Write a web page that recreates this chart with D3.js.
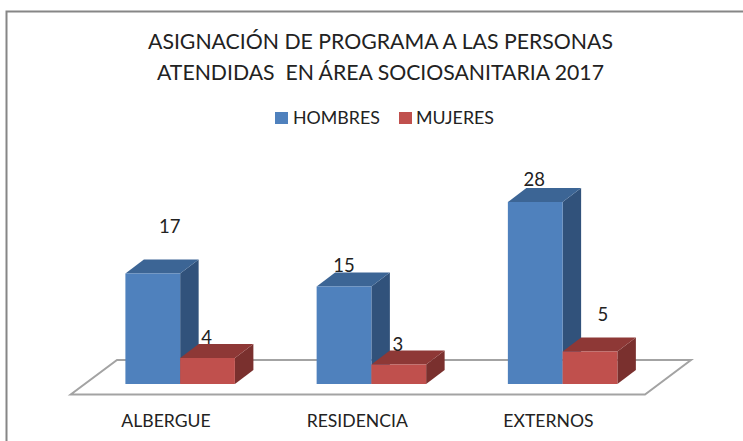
<!DOCTYPE html>
<html>
<head>
<meta charset="utf-8">
<script src="https://cdn.jsdelivr.net/npm/d3@7"></script>
<style>
  body { margin: 0; background: #fff; }
  svg { display: block; }
  text { font-family: Lato, "Open Sans", sans-serif; fill: #222; }
</style>
</head>
<body>
<svg width="743" height="441"></svg>
<script>
const categories = ['ALBERGUE', 'RESIDENCIA', 'EXTERNOS'];
const seriesNames = ['HOMBRES', 'MUJERES'];
const hombres = [17, 15, 28];
const mujeres = [4, 3, 5];
const titleLines = ['ASIGNACIÓN DE PROGRAMA A LAS PERSONAS', 'ATENDIDAS  EN ÁREA SOCIOSANITARIA 2017'];

const front = ['#4f81bd', '#c0504d'];
const topFace = ['#3c6595', '#8e3836'];
const sideFace = ['#31527b', '#7a302e'];

// depth of the fake 3d
const dx = 18.5, dy = 14;

// label nudges, the source places them by hand
const labelOffset = {
    HOMBRES: [[17, -41], [0, -15], [-1, -16]],
    MUJERES: [[-1, -14], [-1, -14], [13, -31]]
};

const svg = d3.select('svg');

const x0 = d3.scaleBand().domain(categories).range([84.4, 658.1]);
const x1 = d3.scaleBand().domain(seriesNames).range([41, 150.5]);
const y = d3.scaleLinear().domain([0, 28]).range([384, 202]);

// outer frame
svg.append('path')
    .attr('d', 'M6.5,441V11.5H743')
    .attr('fill', 'none')
    .attr('stroke', '#868686')
    .attr('stroke-width', 2);

// title
svg.selectAll('.title')
    .data(titleLines)
    .enter()
    .append('text')
    .attr('class', 'title')
    .attr('x', (d, i) => i === 0 ? 148 : 157)
    .attr('y', (d, i) => 49 + i * 31)
    .attr('textLength', (d, i) => i === 0 ? 465 : 447)
    .attr('lengthAdjust', 'spacingAndGlyphs')
    .attr('font-size', 21.5)
    .style('white-space', 'pre')
    .text(d => d);

// legend
const legend = svg.selectAll('.legend')
    .data(seriesNames)
    .enter()
    .append('g')
    .attr('class', 'legend')
    .attr('transform', (d, i) => `translate(${i === 0 ? 275 : 399},112)`);
legend.append('rect')
    .attr('width', 13)
    .attr('height', 12)
    .attr('fill', (d, i) => front[i]);
legend.append('text')
    .attr('x', (d, i) => i === 0 ? 18 : 17)
    .attr('y', 12)
    .attr('font-size', 17.8)
    .text(d => d);

// floor
const fy = y(0);
svg.append('polygon')
    .attr('points', `70.7,${fy + 10.5} 645,${fy + 10.5} 691,${fy - 24} 117,${fy - 24}`)
    .attr('fill', '#fff')
    .attr('stroke', '#a3a3a3')
    .attr('stroke-width', 2);

// bars
function drawBar(g, left, width, v, s) {
    const t = y(v), b = y(0), r = left + width;
    g.append('polygon')
        .attr('points', `${r},${t} ${r + dx},${t - dy} ${r + dx},${b - dy} ${r},${b}`)
        .attr('fill', sideFace[s]);
    g.append('polygon')
        .attr('points', `${left},${t} ${left + dx},${t - dy} ${r + dx},${t - dy} ${r},${t}`)
        .attr('fill', topFace[s]);
    g.append('rect')
        .attr('x', left)
        .attr('y', t)
        .attr('width', width)
        .attr('height', b - t)
        .attr('fill', front[s]);
}

const bars = svg.append('g');
[hombres, mujeres].forEach(function (values, s) {
    values.forEach(function (v, i) {
        drawBar(bars, x0(categories[i]) + x1(seriesNames[s]), x1.bandwidth(), v, s);
    });
});

// value labels
[hombres, mujeres].forEach(function (values, s) {
    const name = seriesNames[s];
    svg.selectAll('.val' + s)
        .data(values)
        .enter()
        .append('text')
        .attr('class', 'val' + s)
        .attr('x', (d, i) => x0(categories[i]) + x1(name) + x1.bandwidth() / 2 + labelOffset[name][i][0])
        .attr('y', (d, i) => y(d) + labelOffset[name][i][1])
        .attr('text-anchor', 'middle')
        .attr('font-size', 18.5)
        .text(d => d);
});

// category axis
const axis = svg.append('g')
    .call(d3.axisBottom(x0).tickSize(0).tickPadding(0));
axis.attr('transform', 'translate(-14,414)');
axis.select('.domain').remove();
axis.selectAll('text')
    .attr('font-size', 17.6)
    .style('font-family', 'Lato, "Open Sans", sans-serif')
    .style('fill', '#222');
</script>
</body>
</html>
